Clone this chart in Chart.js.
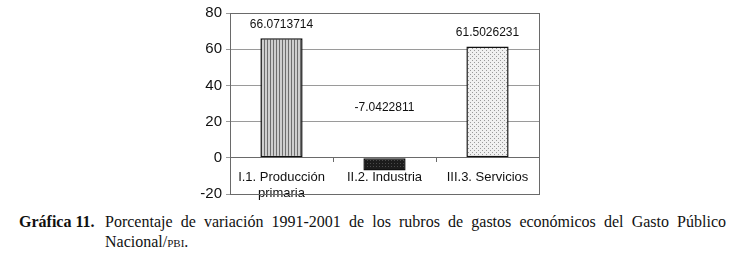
<!DOCTYPE html>
<html>
<head>
<meta charset="utf-8">
<script src="https://cdn.jsdelivr.net/npm/chart.js@4/dist/chart.umd.min.js"></script>
<style>
  body { margin:0; background:#fff; width:732px; height:257px; position:relative; overflow:hidden; }
  #chart { position:absolute; left:0; top:0; }
  .cap { position:absolute; font-family:"Liberation Serif", serif; font-size:16px; line-height:20px; color:#111; }
  #capLabel { left:19px; top:212px; font-weight:bold; white-space:nowrap; }
  #capLine1 { left:105px; top:212px; width:621px; text-align:justify; text-align-last:justify; white-space:nowrap; }
  #capLine2 { left:105px; top:232px; }
  .sc { font-variant:small-caps; }
</style>
</head>
<body>
<canvas id="chart" width="732" height="207"></canvas>
<div class="cap" id="capLabel">Gráfica 11.</div>
<div class="cap" id="capLine1">Porcentaje de variación 1991-2001 de los rubros de gastos económicos del Gasto Público</div>
<div class="cap" id="capLine2">Nacional/<span class="sc">pbi</span>.</div>
<script>
// data
var categories = [['I.1. Producción','primaria'], 'II.2. Industria', 'III.3. Servicios'];
var values = [66.0713714, -7.0422811, 61.5026231];
var valueLabels = ['66.0713714', '-7.0422811', '61.5026231'];
var yTicks = [80, 60, 40, 20, 0, -20];

//--------------------fill patterns--------------------//
function makePattern(w, h, draw){
	var c = document.createElement('canvas');
	c.width = w; c.height = h;
	var g = c.getContext('2d');
	draw(g);
	return g.createPattern(c, 'repeat');
}

var stripes = makePattern(3, 3, function(g){
	g.fillStyle = '#cfcfcf'; g.fillRect(0,0,3,3);
	g.fillStyle = '#6e6e6e'; g.fillRect(0,0,1,3);
});
var darkDots = makePattern(3, 3, function(g){
	g.fillStyle = '#1c1c1c'; g.fillRect(0,0,3,3);
	g.fillStyle = '#4a4a4a'; g.fillRect(1,1,1,1);
});
var lightDots = makePattern(4, 4, function(g){
	g.fillStyle = '#f0f0f0'; g.fillRect(0,0,4,4);
	g.fillStyle = '#9a9a9a'; g.fillRect(0,0,1,1); g.fillRect(2,2,1,1);
});

//--------------------plugins--------------------//
var boxPlugin = {
	id: 'box',
	afterDraw: function(chart){
		var a = chart.chartArea, ctx = chart.ctx;
		ctx.save();
		ctx.strokeStyle = '#6a6a6a';
		ctx.lineWidth = 1;
		ctx.strokeRect(Math.round(a.left)+0.5, Math.round(a.top)+0.5, Math.round(a.right-a.left), Math.round(a.bottom-a.top));
		ctx.restore();
	}
};

var labelPlugin = {
	id: 'valueLabels',
	afterDatasetsDraw: function(chart){
		var ctx = chart.ctx;
		var meta = chart.getDatasetMeta(0);
		var y0 = chart.scales.y.getPixelForValue(0);
		ctx.save();
		ctx.font = '12px "Liberation Sans", Arial, sans-serif';
		ctx.fillStyle = '#111';
		ctx.textAlign = 'center';
		ctx.textBaseline = 'middle';
		meta.data.forEach(function(bar, i){
			var y = values[i] >= 0 ? bar.y - 14 : y0 - 50;
			ctx.fillText(valueLabels[i], bar.x, y);
		});
		ctx.restore();
	}
};

var ctx = document.getElementById('chart').getContext('2d');
var chart = new Chart(ctx, {
	type: 'bar',
	data: {
		labels: categories,
		datasets: [{
			data: values,
			backgroundColor: [stripes, darkDots, lightDots],
			borderColor: '#111',
			borderWidth: 1.5,
			borderSkipped: false,
			barPercentage: 0.41,
			categoryPercentage: 1
		}]
	},
	options: {
		responsive: false,
		animation: false,
		devicePixelRatio: 1,
		layout: { padding: { left: 180, right: 193, top: 11, bottom: 9 } },
		plugins: { legend: { display: false }, tooltip: { enabled: false } },
		scales: {
			x: {
				position: { y: 0 },
				grid: { drawOnChartArea: false, drawTicks: true, tickLength: 4, color: '#6a6a6a' },
				border: { color: '#6a6a6a', width: 1 },
				ticks: {
					color: '#111',
					padding: 8,
					maxRotation: 0,
					font: { family: '"Liberation Sans", Arial, sans-serif', size: 13, lineHeight: 1.2 }
				}
			},
			y: {
				min: -20, max: 80,
				afterFit: function(scale){ scale.width = 50; },
				afterBuildTicks: function(scale){ scale.ticks = yTicks.map(function(v){ return { value: v }; }); },
				grid: { color: '#9a9a9a', tickLength: 4 },
				border: { color: '#6a6a6a' },
				ticks: {
					color: '#111',
					padding: 4,
					font: { family: '"Liberation Sans", Arial, sans-serif', size: 15 }
				}
			}
		}
	},
	plugins: [boxPlugin, labelPlugin]
});
</script>
</body>
</html>
